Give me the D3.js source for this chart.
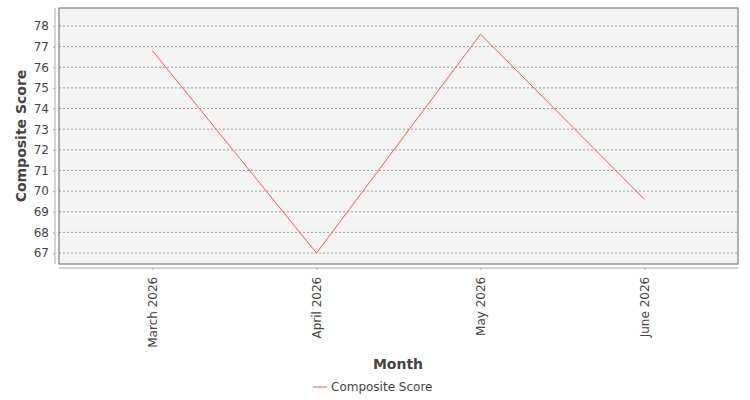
<!DOCTYPE html>
<html><head><meta charset="utf-8">
<script src="https://cdn.jsdelivr.net/npm/d3@7"></script>
<style>body{margin:0;background:#fff}text{font-family:"DejaVu Sans",sans-serif}</style>
</head><body><svg id="c" width="750" height="400"></svg>
<script>
const months = ['March 2026', 'April 2026', 'May 2026', 'June 2026'];
const scores = [76.8, 67.0, 77.6, 69.6];
const yTicks = [67, 68, 69, 70, 71, 72, 73, 74, 75, 76, 77, 78];

const svg = d3.select('#c');
const L = 59, R = 738, T = 8, B = 264;

const x = d3.scalePoint().domain(months).range([L, R]).padding(0.57);
const y = d3.scaleLinear().domain([66.47, 78.87]).range([B, T]);

svg.append('rect').attr('x', L).attr('y', T).attr('width', R - L).attr('height', B - T)
  .attr('fill', '#f4f4f4').attr('stroke', '#666');

// gridlines
svg.selectAll('.grid').data(yTicks).join('line')
  .attr('x1', L).attr('x2', R).attr('y1', d => y(d)).attr('y2', d => y(d))
  .attr('stroke', '#777').attr('stroke-width', 0.7).attr('stroke-dasharray', '2,2');

// y axis
const ya = svg.append('g').attr('transform', `translate(${L - 4},0)`)
  .call(d3.axisLeft(y).tickValues(yTicks).tickSize(2).tickPadding(4));
ya.select('.domain').attr('stroke', '#aaa').attr('d', `M-0,${T}V${B}`);
ya.selectAll('.tick line').attr('stroke', '#aaa');
ya.selectAll('text').attr('fill', '#444').attr('font-size', 12);

// x axis
const xa = svg.append('g').attr('transform', `translate(0,${B + 4})`)
  .call(d3.axisBottom(x).tickSize(2).tickPadding(4));
xa.select('.domain').attr('stroke', '#aaa').attr('d', `M${L},0H${R}`);
xa.selectAll('.tick line').attr('stroke', '#aaa');
xa.selectAll('text').attr('fill', '#444').attr('font-size', 12)
  .attr('transform', 'rotate(-90)').attr('text-anchor', 'end')
  .attr('dx', '-0.4em').attr('dy', '0.35em').attr('y', 0).attr('x', -4);

// line
svg.append('path').datum(scores)
  .attr('d', d3.line().x((d, i) => x(months[i])).y(d => y(d)))
  .attr('fill', 'none').attr('stroke', '#ff5555').attr('stroke-width', 1);

// titles
svg.append('text').attr('x', 398).attr('y', 369).attr('text-anchor', 'middle')
  .attr('font-size', 14).attr('font-weight', 'bold').attr('fill', '#444').text('Month');
svg.append('text').attr('transform', `translate(26,${(T + B) / 2}) rotate(-90)`)
  .attr('text-anchor', 'middle').attr('font-size', 14).attr('font-weight', 'bold')
  .attr('fill', '#444').text('Composite Score');

// legend
svg.append('line').attr('x1', 313).attr('x2', 327).attr('y1', 387).attr('y2', 387)
  .attr('stroke', '#ff5555');
svg.append('text').attr('x', 331).attr('y', 391).attr('font-size', 12).attr('fill', '#444')
  .text('Composite Score');
</script></body></html>
